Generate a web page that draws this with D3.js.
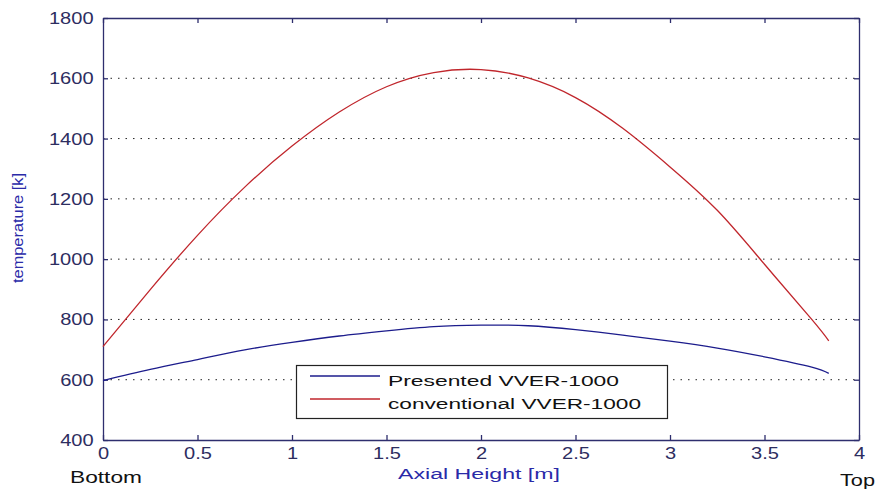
<!DOCTYPE html>
<html>
<head>
<meta charset="utf-8">
<script src="https://cdn.jsdelivr.net/npm/d3@7"></script>
<style>
  body { margin: 0; background: #fff; }
  text { font-family: "Liberation Sans", Arial, sans-serif; }
</style>
</head>
<body>
<div id="chart"></div>
<script>
// data
var xValues = [0, 0.25, 0.5, 0.75, 1, 1.25, 1.5, 1.75, 2, 2.25, 2.5, 2.75, 3, 3.25, 3.5, 3.75, 3.84];
var presented = [597, 634, 667, 699, 724, 745, 762, 776, 781, 779, 766, 748, 728, 705, 676, 642, 621];
var conventional = [710, 899, 1079, 1239, 1375, 1488, 1572, 1619, 1629, 1601, 1536, 1434, 1306, 1162, 983, 800, 729];
var xTicks = [0, 0.5, 1, 1.5, 2, 2.5, 3, 3.5, 4];
var yTicks = [400, 600, 800, 1000, 1200, 1400, 1600, 1800];
var gridValues = [600, 800, 1000, 1200, 1400, 1600];
var seriesNames = ["Presented VVER-1000", "conventional VVER-1000"];

function drawChart() {

    var svgWidth = 876;
    var svgHeight = 490;

    var margin = { top: 18, right: 17, bottom: 50, left: 103 };
    var width = svgWidth - margin.left - margin.right;
    var height = svgHeight - margin.top - margin.bottom;

    var axisColor = "#2e2e6e";
    var tickColor = "#2d2d5f";
    var labelColor = "#2a2aa8";
    var colors = ["#1c1c8c", "#c0262c"];

    var svg = d3.select("#chart").append("svg")
        .attr("width", svgWidth)
        .attr("height", svgHeight);

    svg.append("rect")
        .attr("width", svgWidth)
        .attr("height", svgHeight)
        .attr("fill", "#fff");

    var chartGroup = svg.append("g")
        .attr("transform", `translate(${margin.left}, ${margin.top})`);

    var xScale = d3.scaleLinear().domain([0, 4]).range([0, width]);
    var yScale = d3.scaleLinear().domain([400, 1800]).range([height, 0]);

    // dotted horizontal grid
    chartGroup.selectAll(".grid")
        .data(gridValues)
        .enter()
        .append("line")
        .attr("x1", 0)
        .attr("x2", width)
        .attr("y1", d => yScale(d))
        .attr("y2", d => yScale(d))
        .attr("stroke", "#222")
        .attr("stroke-width", 1)
        .attr("stroke-dasharray", "1.5,6");

    // axes with inward ticks on all four sides
    var xAxis = d3.axisBottom(xScale).tickValues(xTicks)
        .tickFormat(d => String(d)).tickSizeInner(-5).tickSizeOuter(0).tickPadding(7);
    var yAxis = d3.axisLeft(yScale).tickValues(yTicks)
        .tickFormat(d => String(d)).tickSizeInner(-5).tickSizeOuter(0).tickPadding(8);
    var xTop = d3.axisTop(xScale).tickValues(xTicks).tickFormat("").tickSizeInner(-5).tickSizeOuter(0);
    var yRight = d3.axisRight(yScale).tickValues(yTicks).tickFormat("").tickSizeInner(-5).tickSizeOuter(0);

    var gx = chartGroup.append("g").attr("transform", `translate(0, ${height})`).call(xAxis);
    var gy = chartGroup.append("g").call(yAxis);
    var gt = chartGroup.append("g").call(xTop);
    var gr = chartGroup.append("g").attr("transform", `translate(${width}, 0)`).call(yRight);

    [gx, gy, gt, gr].forEach(function(g) {
        g.select(".domain").attr("stroke", axisColor).attr("stroke-width", 1.3);
        g.selectAll(".tick line").attr("stroke", axisColor).attr("stroke-width", 1.3);
        g.selectAll(".tick text")
            .attr("fill", tickColor)
            .attr("font-size", "17px")
            .attr("font-family", "Liberation Sans, Arial, sans-serif")
            .attr("transform", "scale(1.18,1)");
    });

    // curves
    var line = d3.line()
        .x((d, i) => xScale(xValues[i]))
        .y(d => yScale(d))
        .curve(d3.curveNatural);

    [presented, conventional].forEach(function(series, i) {
        chartGroup.append("path")
            .datum(series)
            .attr("fill", "none")
            .attr("stroke", colors[i])
            .attr("stroke-width", 1.3)
            .attr("d", line);
    });

    // legend
    var legend = svg.append("g");
    legend.append("rect")
        .attr("x", 296.5).attr("y", 365.5)
        .attr("width", 371).attr("height", 53)
        .attr("fill", "#fff")
        .attr("stroke", "#222")
        .attr("stroke-width", 1.2);

    var legendLengths = [231, 253];
    seriesNames.forEach(function(name, i) {
        var ly = 376 + i * 23;
        legend.append("line")
            .attr("x1", 310).attr("x2", 380)
            .attr("y1", ly).attr("y2", ly)
            .attr("stroke", colors[i])
            .attr("stroke-width", 1.3);
        legend.append("text")
            .attr("x", 388)
            .attr("y", ly + 10)
            .attr("font-size", "15.5px")
            .attr("fill", "#111")
            .attr("textLength", legendLengths[i])
            .attr("lengthAdjust", "spacingAndGlyphs")
            .text(name);
    });

    // axis labels
    svg.append("text")
        .attr("x", 398)
        .attr("y", 479)
        .attr("font-size", "15.5px")
        .attr("fill", labelColor)
        .attr("textLength", 162)
        .attr("lengthAdjust", "spacingAndGlyphs")
        .text("Axial Height [m]");

    svg.append("text")
        .attr("transform", "translate(23, 283) rotate(-90)")
        .attr("x", 0)
        .attr("y", 0)
        .attr("font-size", "14px")
        .attr("fill", labelColor)
        .attr("textLength", 110)
        .attr("lengthAdjust", "spacingAndGlyphs")
        .text("temperature [k]");

    svg.append("text")
        .attr("x", 70)
        .attr("y", 483)
        .attr("font-size", "16.5px")
        .attr("fill", "#111")
        .attr("textLength", 72)
        .attr("lengthAdjust", "spacingAndGlyphs")
        .text("Bottom");

    svg.append("text")
        .attr("x", 840)
        .attr("y", 486)
        .attr("font-size", "16.5px")
        .attr("fill", "#111")
        .attr("textLength", 35)
        .attr("lengthAdjust", "spacingAndGlyphs")
        .text("Top");
}

drawChart();
</script>
</body>
</html>
